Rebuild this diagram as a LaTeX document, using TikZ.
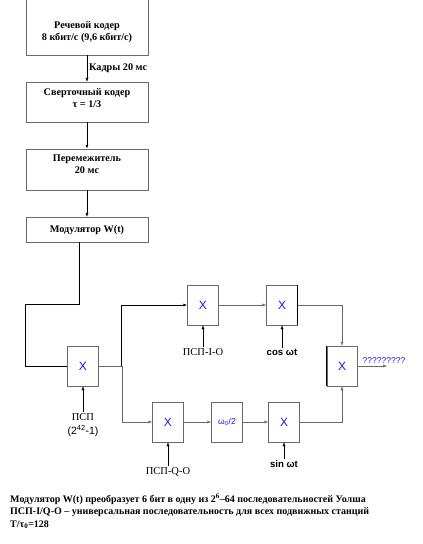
\documentclass[tikz,border=0pt]{standalone}
\usepackage{fontspec}
\setmainfont{Liberation Serif}
\setsansfont{Liberation Sans}
\usetikzlibrary{arrows.meta,positioning,calc}
\definecolor{boxgray}{RGB}{105,105,105}
\definecolor{xblue}{RGB}{25,25,235}

\begin{document}
\begin{tikzpicture}[x=1pt,y=-1pt,
    >={Latex[length=4pt,width=3pt]},
    block/.style={draw=boxgray, minimum width=122pt, inner sep=0pt},
    btext/.style={align=center, inner sep=1pt, font=\fontsize{10.2}{12}\selectfont\bfseries},
    mult/.style={draw=boxgray, minimum width=31pt, minimum height=40pt, inner sep=0pt,
        font=\fontsize{12}{12}\sffamily, text=xblue},
    wire/.style={draw=boxgray},
    lbl/.style={inner sep=1pt, font=\fontsize{10.5}{12}\selectfont},
    slbl/.style={inner sep=1pt, font=\fontsize{9.6}{11}\sffamily\bfseries}]
    \useasboundingbox (0,0) rectangle (423,544);

    % Coder chain
    \node[block, draw=none, minimum height=50pt] (speech) at (87,30) {};
    \draw[boxgray] ([yshift=10pt]speech.north west) -- (speech.south west)
        -- (speech.south east) -- ([yshift=10pt]speech.north east);
    \node[btext] (speech-t) at (87,32) {Речевой кодер\\8 кбит/с (9,6 кбит/с)};
    \node[block, minimum height=40pt] (conv) at (87,102) {};
    \node[btext] (conv-t) at (87,98.5) {Сверточный кодер\\τ = 1/3};
    \node[block, minimum height=41pt] (inter) at (87,169.5) {};
    \node[btext] (inter-t) at (87,164.5) {Перемежитель\\20 мс};
    \node[block, minimum height=25pt] (modw) at (87,229.5) {};
    \node[btext] (modw-t) at (87,230) {Модулятор W(t)};

    \draw[->] (speech) -- node[right, inner sep=2pt, font=\fontsize{10.2}{12}\selectfont\bfseries] {Кадры 20 мс} (conv);
    \draw[->, thick] (conv) -- (inter);
    \draw[->] (inter) -- (modw);

    % Multipliers
    \node[mult] (x1) at (83,366) {X};
    \node[mult] (xi) at (203,305) {X};
    \node[mult] (xc) at (282,305) {X};
    \node[mult] (xq) at (168,422) {X};
    \node[mult, font=\fontsize{8.5}{10}\sffamily] (half) at (227,422) {ω\textsubscript{0}/2};
    \node[mult] (xs) at (284,422) {X};
    \node[mult, minimum width=30pt] (xf) at (342,366) {X};
    \draw[thick] (xc.north east) -- (xc.south east);
    \draw[thick] (xf.north west) -- (xf.south west);

    % Inputs
    \node[lbl, align=center, font=\fontsize{10.5}{14}\selectfont] (psp) at (83,425) {ПСП\\\sffamily(2\textsuperscript{42}-1)};
    \node[lbl] (psi) at (203,352) {ПСП-I-O};
    \node[slbl] (cosw) at (282,352) {cos ωt};
    \node[lbl] (psq) at (168,472) {ПСП-Q-O};
    \node[slbl] (sinw) at (284,464) {sin ωt};
    \node[inner sep=0pt, text=xblue, font=\fontsize{8.5}{9}\sffamily] (outlbl) at (384,361) {?????????};

    % Connections
    \draw[thick] ([xshift=-8pt]modw.south) -- ++(0,62) -| ([xshift=-42pt]x1.west) -- (x1.west);
    \draw[wire] (x1.east) -- ++(23,0) coordinate (split);
    \draw[->, thick] (split) |- (xi.west);
    \draw[->, wire] (split) |- (xq.west);
    \draw[->, wire] (xi) -- (xc);
    \draw[->, wire] (xq) -- (half);
    \draw[->, wire] (half) -- (xs);
    \draw[->, wire] (xc.east) -| (xf.north);
    \draw[->, wire] (xs.east) -| (xf.south);
    \draw[->, wire] (xf.east) -- ++(30,0) coordinate (out);
    \draw[->] (psp) -- (x1);
    \draw[->] (psi) -- (xi);
    \draw[->] (cosw) -- (xc);
    \draw[->] (psq) -- (xq);
    \draw[->] (sinw) -- (xs);

    % Notes
    \node[anchor=north west, align=left, inner sep=0pt, font=\fontsize{10}{12.5}\selectfont\bfseries] (note) at (10,494)
        {Модулятор W(t) преобразует 6 бит в одну из 2\textsuperscript{6}–64 последовательностей Уолша\\
         ПСП-I/Q-O – универсальная последовательность для всех подвижных станций\\
         T/τ\textsubscript{0}=128};
\end{tikzpicture}
\end{document}
